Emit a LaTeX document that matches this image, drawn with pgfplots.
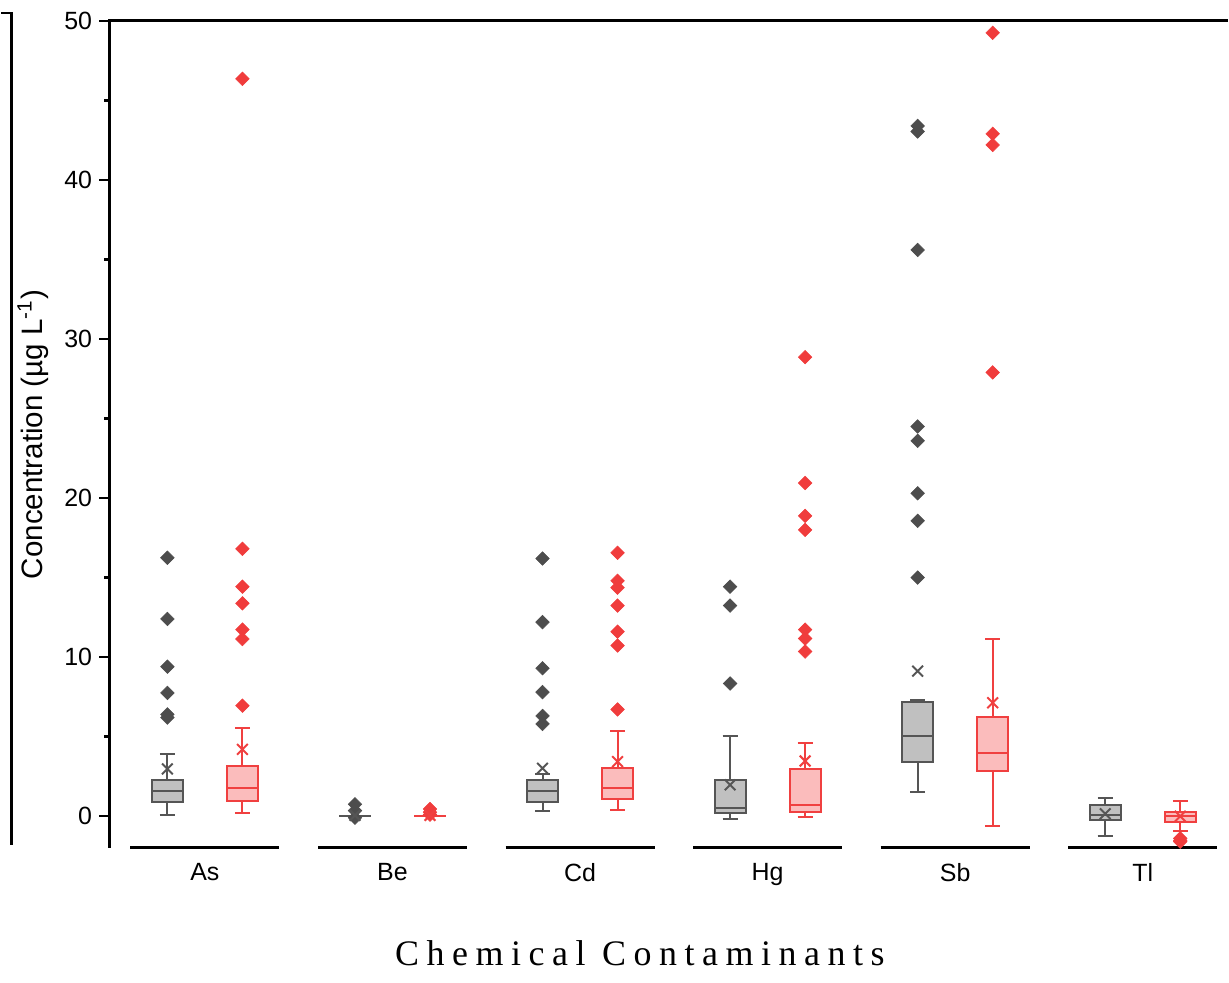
\documentclass[border=0pt]{standalone}
\usepackage{fontspec}
\setmainfont{Liberation Sans}
\newfontfamily\titlefont[LetterSpace=21]{Liberation Serif}
\usepackage{pgfplots}
\pgfplotsset{compat=1.18}
\usepgfplotslibrary{statistics}
\definecolor{gedge}{RGB}{85,85,85}
\definecolor{gfill}{RGB}{192,192,192}
\definecolor{gout}{RGB}{77,77,77}
\definecolor{redge}{RGB}{240,64,64}
\definecolor{rfill}{RGB}{251,188,188}
\definecolor{rout}{RGB}{240,60,60}
\pgfplotsset{
  gbox/.style={draw=gedge, fill=gfill, line width=1pt, solid,
    mark=square*, mark size=2.4pt,
    mark options={rotate=45, fill=gout, draw=gout, line width=0.3pt},
    boxplot/box extend=0.166, boxplot/whisker extend=0.08},
  rbox/.style={draw=redge, fill=rfill, line width=1pt, solid,
    mark=square*, mark size=2.4pt,
    mark options={rotate=45, fill=rout, draw=rout, line width=0.3pt},
    boxplot/box extend=0.166, boxplot/whisker extend=0.08},
}
\begin{document}
\begin{tikzpicture}
\begin{axis}[
  scale only axis, width=560.5pt, height=414.5pt,
  xmin=0.4894, xmax=6.452, ymin=-2, ymax=50,
  axis line style={draw=none},
  xtick={1,2,3,4,5,6}, xticklabels={As,Be,Cd,Hg,Sb,Tl},
  ytick={0,10,20,30,40,50}, minor ytick={5,15,25,35,45},
  tick align=outside, ytick pos=left, xtick pos=bottom,
  x tick style={draw=none},
  y tick style={line width=1.3pt, black},
  major tick length=5pt, minor tick length=2.5pt,
  tick label style={font=\fontsize{12.5}{15}\selectfont},
  x tick label style={yshift=1pt},
  /pgf/number format/assume math mode=true,
  ylabel={Concentration (µg L\textsuperscript{-1})},
  every axis y label/.style={at={(rel axis cs:0,0.5)}, xshift=-27pt, rotate=90, anchor=south, font=\fontsize{14.8}{17}\selectfont},
  clip=false,
  boxplot/draw direction=y,
]
% As
\addplot[gbox, boxplot prepared={draw position=0.8, lower whisker=0.08, lower quartile=0.92, median=1.59, upper quartile=2.28, upper whisker=3.93}]
  table[row sep=\\, y index=0] {16.25\\12.4\\9.4\\7.75\\6.4\\6.2\\};
\addplot[rbox, boxplot prepared={draw position=1.2, lower whisker=0.19, lower quartile=0.96, median=1.80, upper quartile=3.16, upper whisker=5.52}]
  table[row sep=\\, y index=0] {46.36\\16.81\\14.43\\13.38\\11.73\\11.14\\6.95\\};
% Be
\addplot[gbox, boxplot prepared={draw position=1.8, lower whisker=0, lower quartile=0, median=0, upper quartile=0, upper whisker=0}]
  table[row sep=\\, y index=0] {0.75\\0.35\\-0.1\\};
\addplot[rbox, boxplot prepared={draw position=2.2, lower whisker=0, lower quartile=0, median=0, upper quartile=0, upper whisker=0}]
  table[row sep=\\, y index=0] {0.45\\0.25\\0.1\\};
% Cd
\addplot[gbox, boxplot prepared={draw position=2.8, lower whisker=0.33, lower quartile=0.92, median=1.59, upper quartile=2.26, upper whisker=2.63}]
  table[row sep=\\, y index=0] {16.2\\12.2\\9.3\\7.8\\6.3\\5.8\\};
\addplot[rbox, boxplot prepared={draw position=3.2, lower whisker=0.40, lower quartile=1.07, median=1.78, upper quartile=3.01, upper whisker=5.35}]
  table[row sep=\\, y index=0] {16.56\\14.8\\14.37\\13.24\\11.6\\10.73\\6.71\\};
% Hg
\addplot[gbox, boxplot prepared={draw position=3.8, lower whisker=-0.17, lower quartile=0.19, median=0.54, upper quartile=2.28, upper whisker=5.06}]
  table[row sep=\\, y index=0] {14.43\\13.24\\8.34\\};
\addplot[rbox, boxplot prepared={draw position=4.2, lower whisker=-0.04, lower quartile=0.25, median=0.71, upper quartile=2.99, upper whisker=4.6}]
  table[row sep=\\, y index=0] {28.86\\20.95\\18.88\\18.0\\11.73\\11.17\\10.35\\};
% Sb
\addplot[gbox, boxplot prepared={draw position=4.8, lower whisker=1.49, lower quartile=3.43, median=5.02, upper quartile=7.19, upper whisker=7.32}]
  table[row sep=\\, y index=0] {43.4\\43.05\\35.6\\24.5\\23.6\\20.3\\18.57\\15.0\\};
\addplot[rbox, boxplot prepared={draw position=5.2, lower whisker=-0.61, lower quartile=2.84, median=3.95, upper quartile=6.25, upper whisker=11.17}]
  table[row sep=\\, y index=0] {49.25\\42.9\\42.2\\27.9\\};
% Tl
\addplot[gbox, boxplot prepared={draw position=5.8, lower whisker=-1.23, lower quartile=-0.25, median=0.06, upper quartile=0.71, upper whisker=1.13}]
  coordinates {};
\addplot[rbox, boxplot prepared={draw position=6.2, lower whisker=-0.96, lower quartile=-0.36, median=0.02, upper quartile=0.29, upper whisker=0.98}]
  table[row sep=\\, y index=0] {-1.4\\-1.53\\-1.6\\};
% means
\addplot[only marks, mark=x, mark size=3.8pt, draw=gedge, line width=1pt]
  coordinates {(0.8,2.97) (1.8,0.05) (2.8,3.01) (3.8,1.97) (4.8,9.12) (5.8,0.15)};
\addplot[only marks, mark=x, mark size=3.8pt, draw=redge, line width=1pt]
  coordinates {(1.2,4.2) (2.2,0.05) (3.2,3.43) (4.2,3.47) (5.2,7.13) (6.2,0.0)};
% segmented x axis
\draw[line width=1.5pt] (axis cs:0.603,-2) -- (axis cs:1.397,-2);
\draw[line width=1.5pt] (axis cs:1.603,-2) -- (axis cs:2.397,-2);
\draw[line width=1.5pt] (axis cs:2.603,-2) -- (axis cs:3.397,-2);
\draw[line width=1.5pt] (axis cs:3.603,-2) -- (axis cs:4.397,-2);
\draw[line width=1.5pt] (axis cs:4.603,-2) -- (axis cs:5.397,-2);
\draw[line width=1.5pt] (axis cs:5.603,-2) -- (axis cs:6.397,-2);
\coordinate (SW) at (rel axis cs:0,0);
\coordinate (NE) at (rel axis cs:1,1);
\end{axis}
\coordinate (NW) at (SW |- NE);
\draw[line width=1.5pt] (SW) -- (NW) -- (NE);
\draw[line width=1.4pt] ([xshift=-54pt,yshift=4pt]NW) -- ([xshift=-49pt,yshift=4pt]NW) -- ([xshift=-49pt,yshift=1.5pt]SW);
\node[anchor=base, font=\titlefont\fontsize{18}{20}\selectfont] at ([xshift=266pt,yshift=-59pt]SW) {Chemical Contaminants};
\path ([xshift=-54pt,yshift=-67.5pt]SW) rectangle ([yshift=10.5pt]NE);
\end{tikzpicture}
\end{document}
